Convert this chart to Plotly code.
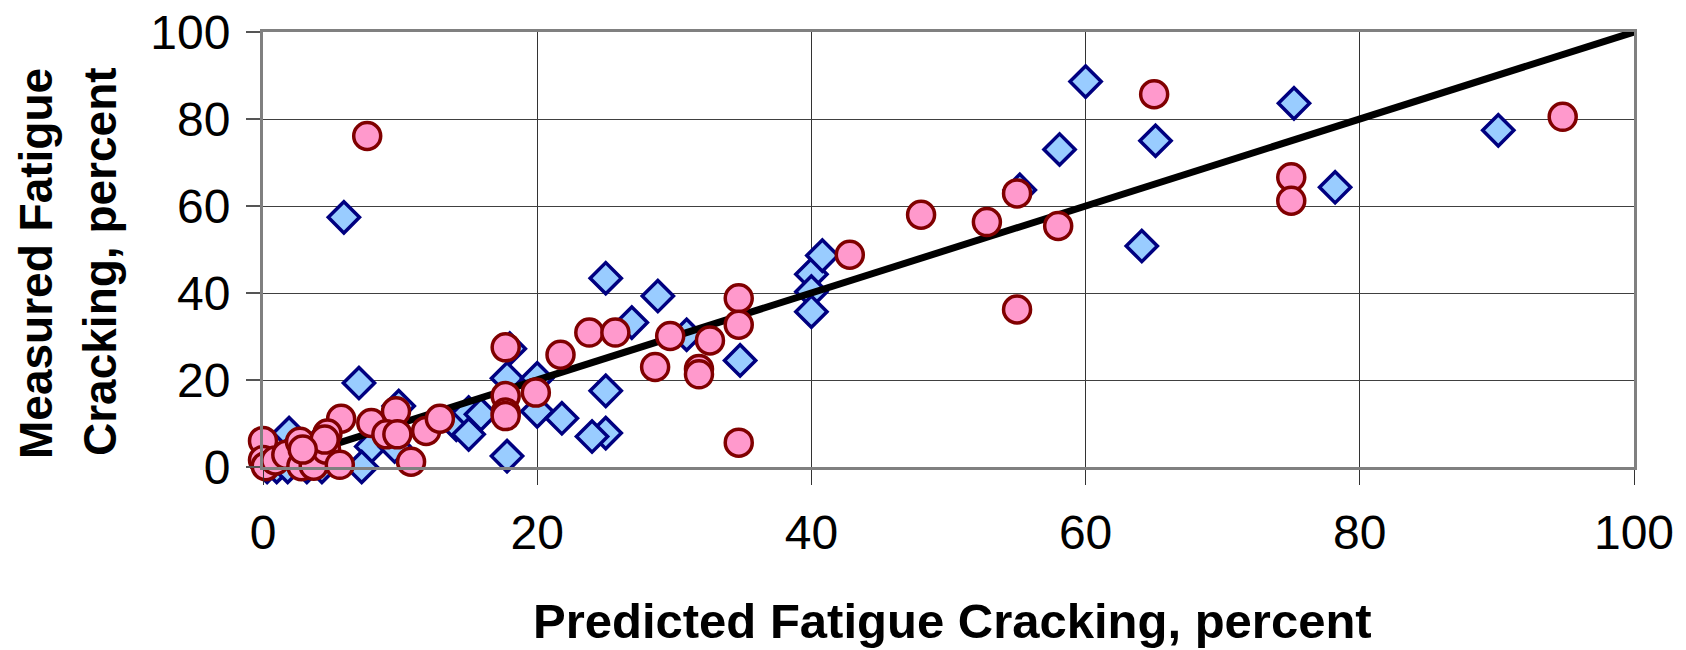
import plotly.graph_objects as go

# Series 1: blue diamonds (predicted, measured)
blue_x = [5.9, 25.0, 28.8, 26.9, 18.0, 17.8, 20.0, 20.0, 21.8, 25.0, 25.0, 24.0, 17.8,
          30.9, 34.8, 7.0, 9.9, 14.1, 15.0, 15.0, 15.9, 7.9, 7.2, 9.6, 1.9, 0.3, 1.0,
          1.8, 3.2, 4.3, 2.3, 4.0, 40.0, 40.0, 40.0, 40.8, 55.2, 58.1, 60.0, 65.1,
          64.1, 75.2, 78.2, 90.1]
blue_y = [57.4, 43.4, 39.3, 33.2, 27.2, 20.4, 20.4, 12.8, 11.2, 17.5, 7.8, 7.0, 2.5,
          30.4, 24.5, 19.3, 14.0, 9.7, 12.5, 7.5, 12.1, 4.7, 0.0, 4.7, 7.8, 0.0, 0.0,
          0.0, 0.0, 0.0, 4.5, 5.5, 44.3, 40.3, 35.7, 48.6, 63.7, 73.0, 88.6, 75.0,
          50.8, 83.6, 64.3, 77.4]

# Series 2: pink circles (predicted, measured)
pink_x = [7.6, 23.8, 25.7, 21.7, 17.7, 19.9, 17.7, 17.7, 17.7, 28.6, 29.7, 32.6, 31.8,
          31.8, 34.7, 34.7, 34.7, 42.8, 48.0, 52.8, 55.0, 58.0, 55.0, 65.0, 75.0, 75.0,
          94.8, 5.7, 7.9, 9.7, 9.0, 9.8, 10.8, 11.9, 12.9, 0.0, 0.0, 0.2, 0.9, 1.7,
          2.7, 2.8, 3.7, 3.7, 4.6, 4.7, 5.6, 4.5, 2.9]
pink_y = [76.1, 30.9, 30.9, 25.8, 27.5, 17.1, 16.3, 12.5, 11.7, 23.0, 30.1, 29.1, 22.5,
          21.3, 38.8, 32.7, 5.6, 48.8, 58.0, 56.3, 62.9, 55.4, 36.2, 85.7, 66.6, 61.2,
          80.5, 11.1, 10.1, 12.8, 7.5, 7.5, 1.2, 8.3, 11.1, 6.0, 1.6, 0.2, 1.5, 2.8,
          5.8, 0.2, 3.1, 0.3, 4.0, 7.7, 0.5, 6.3, 4.0]

# Line of equality
line_x = [0, 100]
line_y = [0, 100]

tick_vals = [0, 20, 40, 60, 80, 100]
tick_text = ["0", "20", "40", "60", "80", "100"]

x_title = "Predicted Fatigue Cracking, percent"
y_title_lines = ["Measured Fatigue", "Cracking, percent"]

FONT = "Arial, Liberation Sans, sans-serif"

fig = go.Figure()
fig.add_trace(go.Scatter(
    x=blue_x, y=blue_y, mode="markers", cliponaxis=False,
    marker=dict(symbol="diamond", size=24, color="#99CCFF",
                line=dict(color="#000080", width=3.5)),
    showlegend=False))
fig.add_trace(go.Scatter(
    x=line_x, y=line_y, mode="lines", cliponaxis=False,
    line=dict(color="black", width=7), showlegend=False))
fig.add_trace(go.Scatter(
    x=pink_x, y=pink_y, mode="markers", cliponaxis=False,
    marker=dict(symbol="circle", size=27, color="#FF99CC",
                line=dict(color="#800000", width=3.5)),
    showlegend=False))

W, H = 1686, 650
L, T = 263, 32
R = W - 1634
B = H - 467
pw, ph = W - L - R, H - T - B


def px_x(v):
    return (v - L) / pw


def px_y(v):
    return (H - B - v) / ph


fig.update_layout(
    width=W, height=H,
    margin=dict(l=L, r=R, t=T, b=B, pad=0),
    paper_bgcolor="white", plot_bgcolor="white",
    font=dict(family=FONT, color="black"),
    xaxis=dict(range=[0, 100], tickvals=tick_vals, ticktext=tick_text,
               automargin=False,
               showgrid=True, gridcolor="#333333", gridwidth=1.2,
               zeroline=False, showline=True, linecolor="#808080", linewidth=3,
               mirror=True, ticks="outside", ticklen=15, tickwidth=1.2,
               tickcolor="#333333", tickfont=dict(size=48, family=FONT),
               ticklabelstandoff=6),
    yaxis=dict(range=[0, 100], tickvals=tick_vals, ticktext=tick_text,
               automargin=False,
               showgrid=True, gridcolor="#404040", gridwidth=1.2,
               zeroline=False, showline=True, linecolor="#808080", linewidth=3,
               mirror=True, ticks="outside", ticklen=14, tickwidth=1.5,
               tickcolor="#555555", tickfont=dict(size=48, family=FONT),
               ticklabelstandoff=6),
    annotations=[
        dict(text="<b>" + x_title + "</b>", xref="paper", yref="paper",
             x=px_x(953), y=px_y(621), xanchor="center", yanchor="middle",
             showarrow=False, font=dict(size=49, family=FONT, color="black")),
        dict(text="<b>" + y_title_lines[0] + "</b>", xref="paper", yref="paper",
             x=px_x(36), y=px_y(264), xanchor="center", yanchor="middle",
             textangle=-90, showarrow=False,
             font=dict(size=46, family=FONT, color="black")),
        dict(text="<b>" + y_title_lines[1] + "</b>", xref="paper", yref="paper",
             x=px_x(100), y=px_y(262), xanchor="center", yanchor="middle",
             textangle=-90, showarrow=False,
             font=dict(size=46, family=FONT, color="black")),
    ],
)

fig.write_html(
    "out.html",
    config={"displayModeBar": False},
    post_script="document.body.style.margin='0';document.body.style.overflow='hidden';",
)
